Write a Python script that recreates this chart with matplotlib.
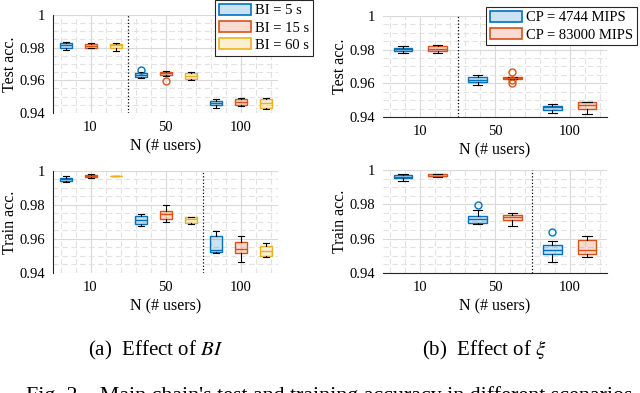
import numpy as np
import matplotlib
matplotlib.use("Agg")
import matplotlib.pyplot as plt
from matplotlib.patches import Patch
from matplotlib.ticker import MultipleLocator

plt.rcParams['font.family'] = ['Liberation Serif', 'DejaVu Serif']
plt.rcParams['mathtext.fontset'] = 'stix'

# --- data ---
groups = ['10', '50', '100']

# (a) effect of BI : test accuracy, one list per series -> [N=10, N=50, N=100]
bi_labels = ['BI = 5 s', 'BI = 15 s', 'BI = 60 s']
bi_test_lo = [[0.9786, 0.9616, 0.9428], [0.9796, 0.9628, 0.9444], [0.9780, 0.9604, 0.9424]]
bi_test_q1 = [[0.9796, 0.9620, 0.9452], [0.9800, 0.9632, 0.9448], [0.9800, 0.9608, 0.9430]]
bi_test_med = [[0.9814, 0.9630, 0.9464], [0.9810, 0.9644, 0.9470], [0.9814, 0.9624, 0.9460]]
bi_test_q3 = [[0.9826, 0.9644, 0.9474], [0.9820, 0.9650, 0.9488], [0.9824, 0.9644, 0.9484]]
bi_test_hi = [[0.9834, 0.9650, 0.9484], [0.9826, 0.9658, 0.9492], [0.9830, 0.9654, 0.9492]]
bi_test_out = [[[], [0.9666], []], [[], [0.9596], []], [[], [], []]]

# (a) effect of BI : train accuracy
bi_train_lo = [[0.9934, 0.9676, 0.9519], [0.9961, 0.9700, 0.9466], [0.9968, 0.9690, 0.9496]]
bi_train_q1 = [[0.9943, 0.9689, 0.9525], [0.9963, 0.9717, 0.9517], [0.9969, 0.9697, 0.9500]]
bi_train_med = [[0.9953, 0.9713, 0.9533], [0.9970, 0.9746, 0.9541], [0.9970, 0.9716, 0.9527]]
bi_train_q3 = [[0.9961, 0.9738, 0.9619], [0.9977, 0.9767, 0.9584], [0.9971, 0.9728, 0.9560]]
bi_train_hi = [[0.9973, 0.9746, 0.9646], [0.9980, 0.9800, 0.9619], [0.9972, 0.9732, 0.9576]]
bi_train_out = [[[], [], []], [[], [], []], [[], [], []]]

# (b) effect of xi : test accuracy
cp_labels = ['CP = 4744 MIPS', 'CP = 83000 MIPS']
cp_test_lo = [[0.9783, 0.9590, 0.9424], [0.9780, 0.9623, 0.9420]]
cp_test_q1 = [[0.9793, 0.9607, 0.9443], [0.9795, 0.9627, 0.9447]]
cp_test_med = [[0.9801, 0.9621, 0.9457], [0.9803, 0.9631, 0.9471]]
cp_test_q3 = [[0.9809, 0.9637, 0.9467], [0.9824, 0.9635, 0.9487]]
cp_test_hi = [[0.9820, 0.9650, 0.9475], [0.9828, 0.9639, 0.9490]]
cp_test_out = [[[], [], []], [[], [0.9670, 0.9617, 0.9603], []]]

# (b) effect of xi : train accuracy
cp_train_lo = [[0.9934, 0.9686, 0.9464], [0.9961, 0.9673, 0.9493]]
cp_train_q1 = [[0.9952, 0.9694, 0.9512], [0.9963, 0.9710, 0.9512]]
cp_train_med = [[0.9961, 0.9713, 0.9535], [0.9967, 0.9725, 0.9535]]
cp_train_q3 = [[0.9969, 0.9733, 0.9563], [0.9975, 0.9737, 0.9590]]
cp_train_hi = [[0.9975, 0.9768, 0.9584], [0.9979, 0.9748, 0.9613]]
cp_train_out = [[[], [0.9797], [0.9638]], [[], [], []]]

colors3 = ['#0072BD', '#D95319', '#EDB120']


def draw_panel(ax, lo, q1, med, q3, hi, out, offsets, width, cols, sep, ylab, left_spine):
    for s in range(len(lo)):
        stats = []
        for g in range(len(groups)):
            stats.append(dict(whislo=lo[s][g], q1=q1[s][g], med=med[s][g],
                              q3=q3[s][g], whishi=hi[s][g], fliers=out[s][g]))
        pos = [g + 1 + offsets[s] for g in range(len(groups))]
        c = cols[s]
        ax.bxp(stats, positions=pos, widths=width, capwidths=width * 0.5,
               patch_artist=True, showfliers=True,
               boxprops=dict(facecolor=matplotlib.colors.to_rgba(c, 0.2), edgecolor=c, linewidth=1.0),
               medianprops=dict(color=c, linewidth=1.0),
               whiskerprops=dict(color='black', linewidth=0.8),
               capprops=dict(color='black', linewidth=0.8),
               flierprops=dict(marker='o', markerfacecolor='none', markeredgecolor=c,
                               markersize=5, markeredgewidth=1.0))
    ax.axvline(sep, color='black', linestyle=':', linewidth=0.9)
    ax.set_xlim(0.5, 3.5)
    ax.set_ylim(0.94, 1.0)
    ax.set_xticks([1, 2, 3])
    ax.set_xticklabels(groups)
    ax.set_yticks([0.94, 0.96, 0.98, 1.0])
    ax.set_yticklabels(['0.94', '0.96', '0.98', '1'])
    ax.xaxis.set_minor_locator(MultipleLocator(0.2))
    ax.yaxis.set_minor_locator(MultipleLocator(0.005))
    ax.grid(True, which='major', color='#d9d9d9', linewidth=0.8)
    ax.grid(True, which='minor', color='#e2e2e2', linewidth=0.8, linestyle=(0, (5, 3)))
    ax.set_axisbelow(True)
    ax.tick_params(which='both', length=0, labelsize=10.5, pad=6)
    ax.set_xlabel('N (# users)', fontsize=11.5, labelpad=3)
    ax.set_ylabel(ylab, fontsize=11.5)
    # label anchor (right side of rotated text) ~35 px left of the axis
    ax.yaxis.set_label_coords(-35 / (ax.get_position().width * 640), 0.5)
    for sp in ax.spines.values():
        sp.set_visible(False)
    if left_spine:
        ax.spines['left'].set_visible(True)
        ax.spines['left'].set_color('#262626')
        ax.spines['left'].set_linewidth(0.8)
    else:
        ax.spines['bottom'].set_visible(True)
        ax.spines['bottom'].set_color('#262626')
        ax.spines['bottom'].set_linewidth(0.8)


fig = plt.figure(figsize=(6.4, 3.93), dpi=100)
W, H = 640.0, 393.0
ax1 = fig.add_axes([53 / W, 1 - 113 / H, 225 / W, 98 / H])
ax2 = fig.add_axes([53 / W, 1 - 273 / H, 225 / W, 102 / H])
ax3 = fig.add_axes([383 / W, 1 - 117 / H, 224 / W, 101 / H])
ax4 = fig.add_axes([383 / W, 1 - 273 / H, 224 / W, 103 / H])

off3 = [-0.33, 0.0, 0.34]
off2 = [-0.23, 0.23]
draw_panel(ax1, bi_test_lo, bi_test_q1, bi_test_med, bi_test_q3, bi_test_hi, bi_test_out,
           off3, 0.16, colors3, 1.5, 'Test acc.', True)
draw_panel(ax2, bi_train_lo, bi_train_q1, bi_train_med, bi_train_q3, bi_train_hi, bi_train_out,
           off3, 0.16, colors3, 2.5, 'Train acc.', True)
draw_panel(ax3, cp_test_lo, cp_test_q1, cp_test_med, cp_test_q3, cp_test_hi, cp_test_out,
           off2, 0.25, colors3[:2], 1.5, 'Test acc.', False)
draw_panel(ax4, cp_train_lo, cp_train_q1, cp_train_med, cp_train_q3, cp_train_hi, cp_train_out,
           off2, 0.25, colors3[:2], 2.5, 'Train acc.', False)

h1 = [Patch(facecolor=matplotlib.colors.to_rgba(c, 0.2), edgecolor=c, linewidth=1.2) for c in colors3]
leg1 = fig.legend(h1, bi_labels, loc='upper right', bbox_to_anchor=(313 / W, 1.0),
                  fontsize=10.5, fancybox=False, framealpha=1, edgecolor='#262626',
                  handlelength=2.2, handleheight=0.8, handletextpad=0.3, borderpad=0.25,
                  labelspacing=0.25, borderaxespad=0)
leg1.get_frame().set_linewidth(0.8)
h2 = [Patch(facecolor=matplotlib.colors.to_rgba(c, 0.2), edgecolor=c, linewidth=1.2) for c in colors3[:2]]
leg2 = fig.legend(h2, cp_labels, loc='upper right', bbox_to_anchor=(637 / W, 1 - 7 / H),
                  fontsize=10.5, fancybox=False, framealpha=1, edgecolor='#262626',
                  handlelength=2.2, handleheight=0.8, handletextpad=0.3, borderpad=0.25,
                  labelspacing=0.25, borderaxespad=0)
leg2.get_frame().set_linewidth(0.8)

fig.text(156 / W, 1 - 350 / H, '(a)  Effect of $BI$', ha='center', va='center', fontsize=15)
fig.text(484 / W, 1 - 350 / H, r'(b)  Effect of $\xi$', ha='center', va='center', fontsize=15)
fig.text(26 / W, 1 - 386 / H, "Fig. 2.   Main chain's test and training accuracy in different scenarios",
         ha='left', va='top', fontsize=15.8)

fig.savefig('out.png', dpi=100)
